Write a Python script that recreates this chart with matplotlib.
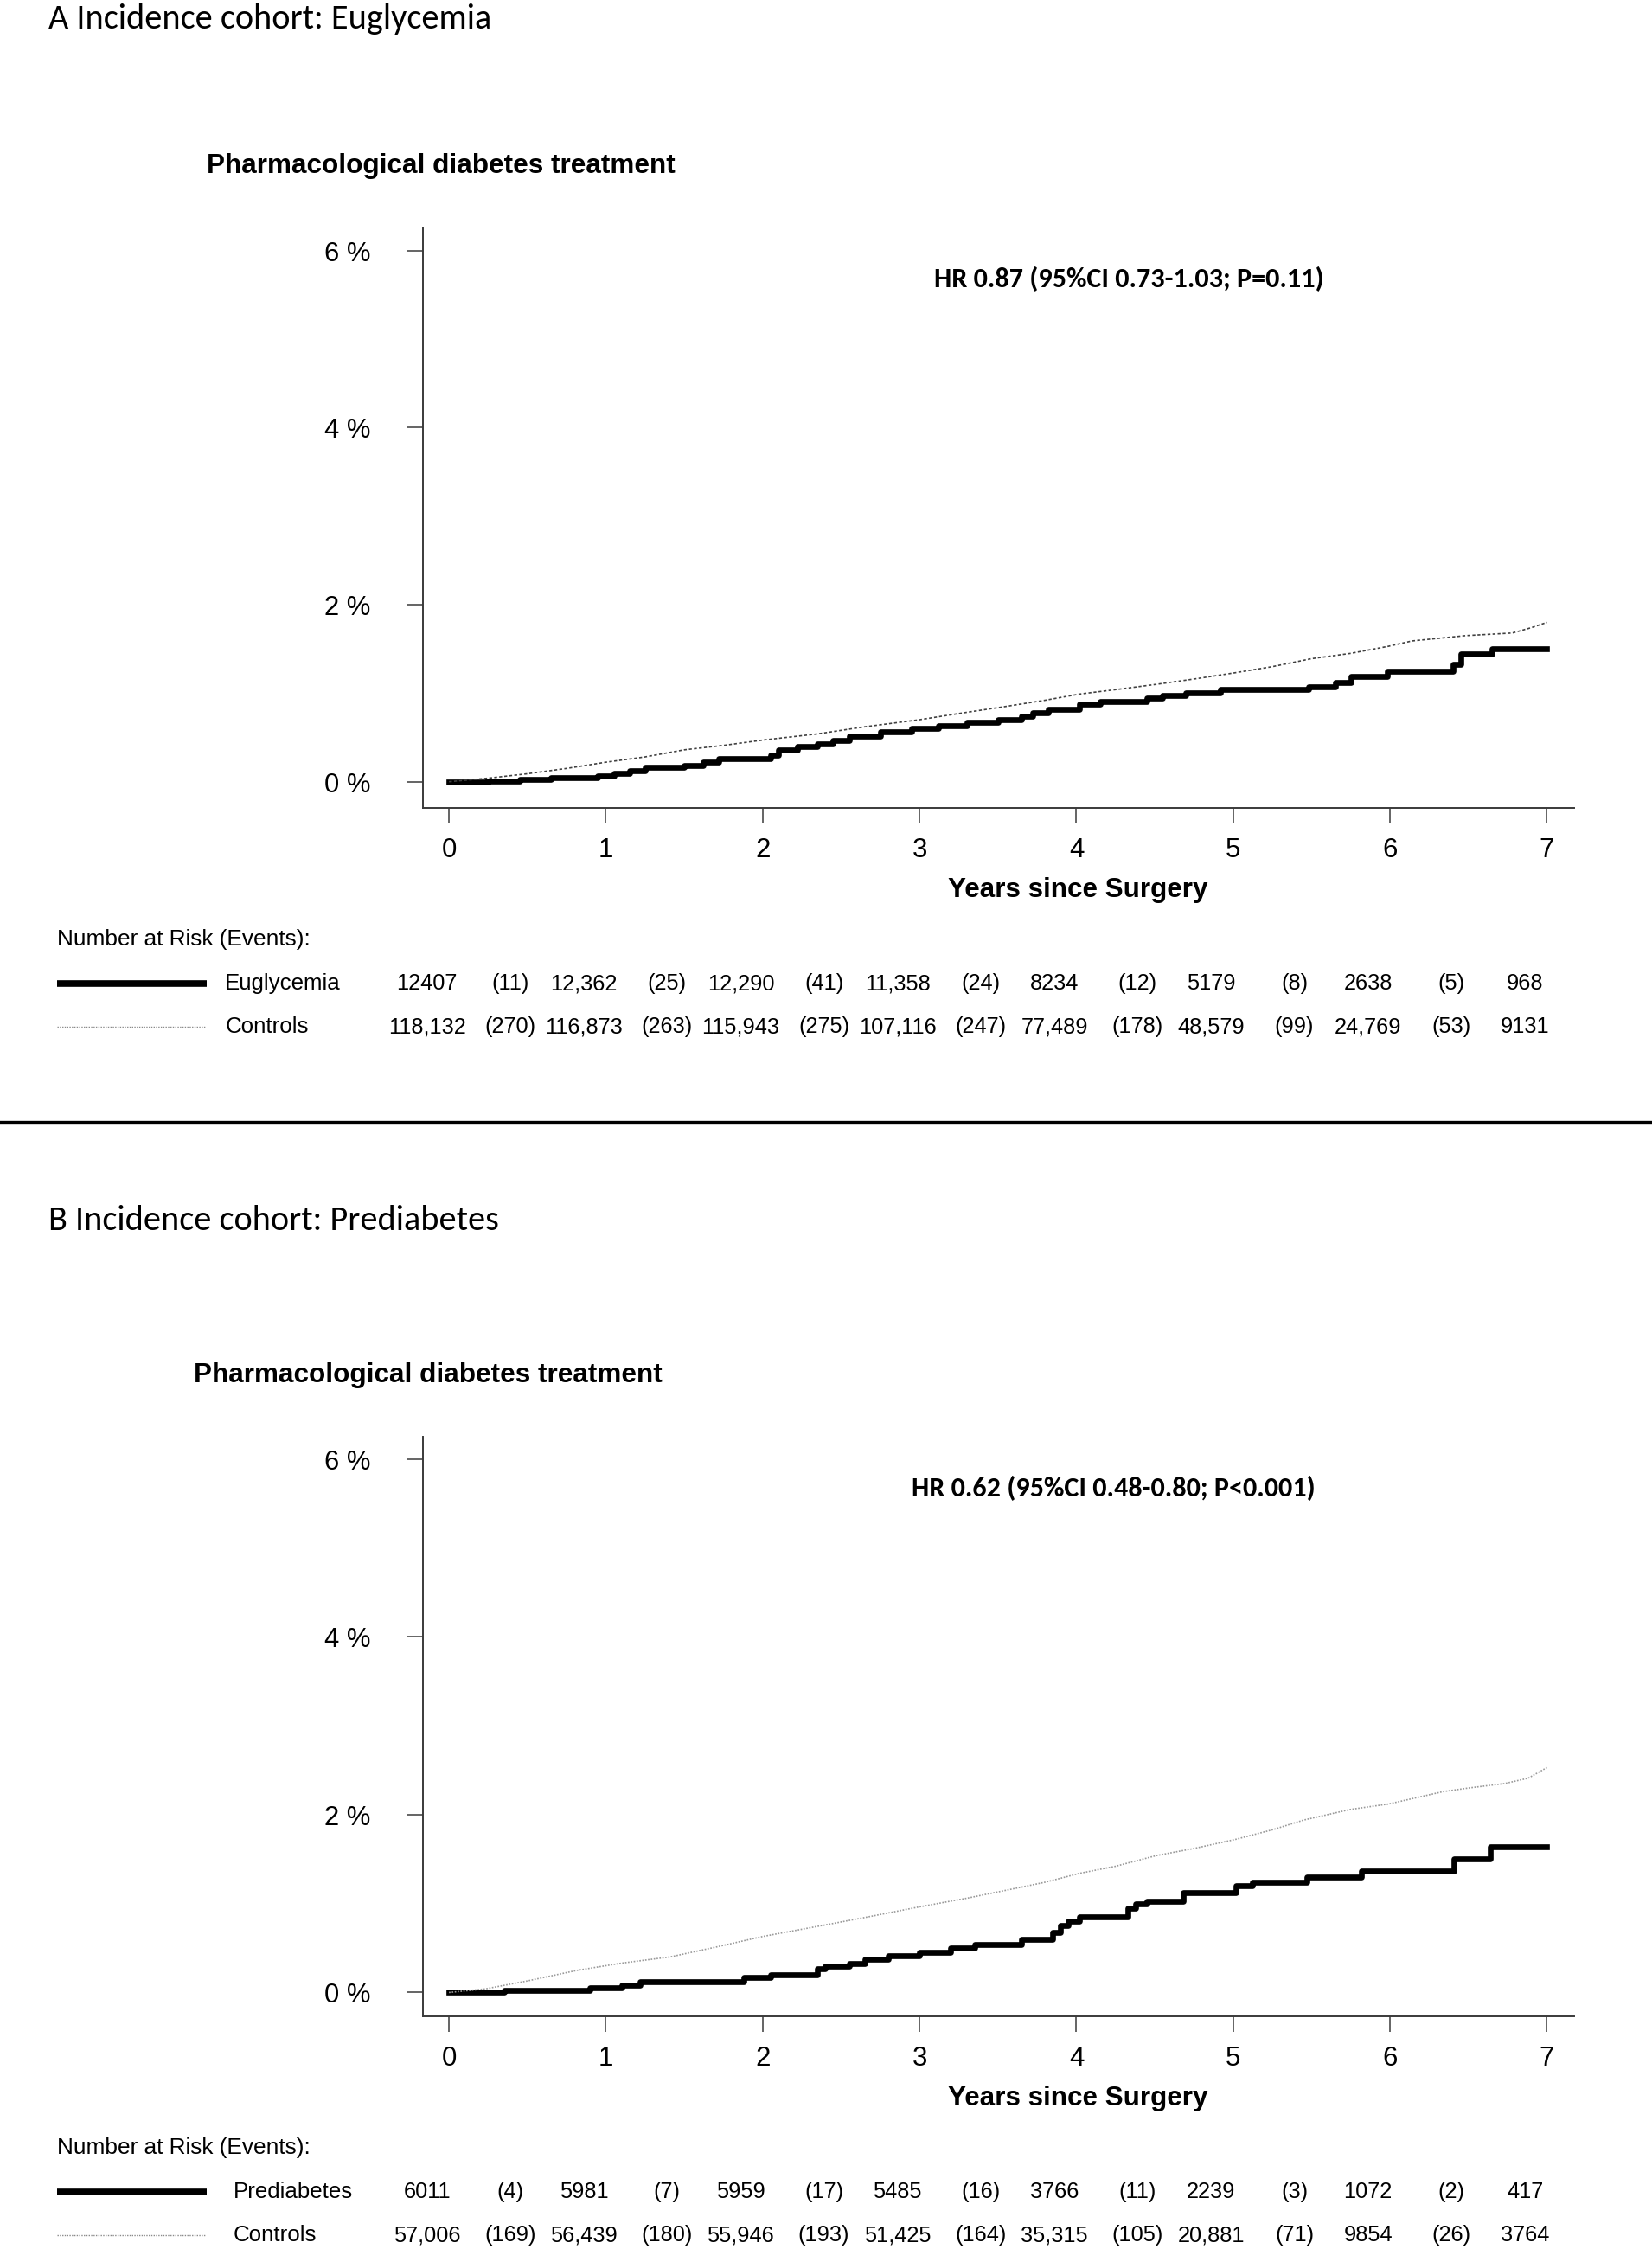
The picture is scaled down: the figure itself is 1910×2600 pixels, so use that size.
import matplotlib
matplotlib.use("Agg")
import matplotlib.pyplot as plt
import matplotlib.transforms as mtransforms
from matplotlib import font_manager
from matplotlib.lines import Line2D

# ---------------- data ----------------
years = [0, 1, 2, 3, 4, 5, 6, 7]
ytick_vals = [0, 2, 4, 6]
ytick_labels = ["0 %", "2 %", "4 %", "6 %"]

# Panel A: Euglycemia (step curve: time of step, level after, %)
a_case_t = [0.0, 0.25, 0.45, 0.65, 0.95, 1.05, 1.15, 1.25, 1.50, 1.62, 1.72, 2.05, 2.10,
            2.22, 2.35, 2.45, 2.55, 2.75, 2.95, 3.12, 3.30, 3.50, 3.65, 3.72, 3.82, 4.02,
            4.15, 4.45, 4.55, 4.70, 4.92, 5.48, 5.65, 5.75, 5.98, 6.40, 6.45, 6.65, 7.0]
a_case_y = [0.0, 0.01, 0.03, 0.05, 0.07, 0.09, 0.12, 0.16, 0.18, 0.22, 0.26, 0.30, 0.36,
            0.40, 0.43, 0.47, 0.51, 0.56, 0.60, 0.63, 0.67, 0.70, 0.74, 0.78, 0.82, 0.88,
            0.91, 0.94, 0.97, 1.00, 1.04, 1.07, 1.12, 1.19, 1.25, 1.33, 1.44, 1.50, 1.50]
# Panel A: Controls
a_ctrl_t = [0.0, 0.25, 0.5, 0.75, 1.0, 1.25, 1.5, 1.75, 2.0, 2.35, 2.65, 3.0, 3.25, 3.55,
            3.8, 4.02, 4.25, 4.51, 4.75, 5.01, 5.25, 5.5, 5.75, 5.99, 6.14, 6.48, 6.78,
            6.9, 7.0]
a_ctrl_y = [0.0, 0.04, 0.09, 0.15, 0.22, 0.28, 0.36, 0.41, 0.47, 0.54, 0.62, 0.70, 0.77,
            0.85, 0.92, 0.99, 1.04, 1.10, 1.16, 1.23, 1.30, 1.39, 1.45, 1.53, 1.59, 1.65,
            1.68, 1.74, 1.80]

# Panel B: Prediabetes (step curve)
b_case_t = [0.0, 0.35, 0.9, 1.1, 1.22, 1.88, 2.05, 2.35, 2.4, 2.55, 2.65, 2.8, 3.0, 3.2,
            3.35, 3.65, 3.85, 3.9, 3.95, 4.02, 4.33, 4.38, 4.45, 4.68, 5.02, 5.12, 5.47,
            5.82, 6.41, 6.64, 7.0]
b_case_y = [0.0, 0.02, 0.05, 0.08, 0.12, 0.17, 0.20, 0.27, 0.30, 0.33, 0.37, 0.41, 0.45,
            0.50, 0.54, 0.60, 0.68, 0.75, 0.80, 0.85, 0.95, 1.00, 1.03, 1.12, 1.20, 1.24,
            1.30, 1.37, 1.50, 1.64, 1.64]
# Panel B: Controls
b_ctrl_t = [0.0, 0.23, 0.5, 0.82, 1.1, 1.41, 1.7, 2.0, 2.4, 2.7, 2.99, 3.3, 3.58, 3.8,
            4.02, 4.25, 4.51, 4.75, 5.01, 5.25, 5.45, 5.75, 5.99, 6.34, 6.5, 6.73, 6.88, 7.0]
b_ctrl_y = [0.0, 0.04, 0.13, 0.25, 0.33, 0.40, 0.51, 0.63, 0.76, 0.86, 0.96, 1.06, 1.16,
            1.24, 1.34, 1.42, 1.54, 1.62, 1.72, 1.83, 1.94, 2.06, 2.12, 2.26, 2.30, 2.35,
            2.41, 2.53]

# Number at risk / events
a_case_risk = ["12407", "12,362", "12,290", "11,358", "8234", "5179", "2638", "968"]
a_case_events = ["(11)", "(25)", "(41)", "(24)", "(12)", "(8)", "(5)"]
a_ctrl_risk = ["118,132", "116,873", "115,943", "107,116", "77,489", "48,579", "24,769", "9131"]
a_ctrl_events = ["(270)", "(263)", "(275)", "(247)", "(178)", "(99)", "(53)"]

b_case_risk = ["6011", "5981", "5959", "5485", "3766", "2239", "1072", "417"]
b_case_events = ["(4)", "(7)", "(17)", "(16)", "(11)", "(3)", "(2)"]
b_ctrl_risk = ["57,006", "56,439", "55,946", "51,425", "35,315", "20,881", "9854", "3764"]
b_ctrl_events = ["(169)", "(180)", "(193)", "(164)", "(105)", "(71)", "(26)"]

panel_titles = ["A Incidence cohort: Euglycemia", "B Incidence cohort: Prediabetes"]
plot_title = "Pharmacological diabetes treatment"
hr_texts = ["HR 0.87 (95%CI 0.73-1.03; P=0.11)", "HR 0.62 (95%CI 0.48-0.80; P<0.001)"]
case_names = ["Euglycemia", "Prediabetes"]
ctrl_name = "Controls"
xlabel = "Years since Surgery"
risk_header = "Number at Risk (Events):"


# ---------------- fonts ----------------
def pick(cands):
    for c in cands:
        try:
            font_manager.findfont(c, fallback_to_default=False)
            return c
        except Exception:
            pass
    return "DejaVu Sans"


ARIAL = pick(["Liberation Sans", "Arimo", "DejaVu Sans"])
CALIBRI = pick(["Carlito", "Lato", "Open Sans", "DejaVu Sans"])

W, H = 1910, 2600
fig = plt.figure(figsize=((W + 0.5) / 100, (H + 0.5) / 100), dpi=100)
fig.patch.set_facecolor("white")


def fx(px):
    return px / W


def fy(py):
    return 1 - py / H


SPINE = "#3a3a3a"


def draw_panel(k, top, bottom, zero_px, pct_px, case_t, case_y, ctrl_t, ctrl_y,
               ctrl_color, ctrl_ls, case_risk, case_events, ctrl_risk, ctrl_events,
               title_x, hr_x, case_label_x, ctrl_label_x, panel_label_x, panel_label_base):
    ax = fig.add_axes([fx(489), fy(bottom), (1820 - 489) / W, (bottom - top) / H])
    ax.set_xlim(-(519 - 489) / 181.3, 7 + (1820 - 1788) / 181.3)
    ax.set_ylim(-(bottom - zero_px) / pct_px, (zero_px - top) / pct_px)

    ax.step(case_t, case_y, where="post", color="black", lw=4.8)
    ax.plot(ctrl_t, ctrl_y, color=ctrl_color, lw=1.2, ls=ctrl_ls)

    for s in ["top", "right"]:
        ax.spines[s].set_visible(False)
    for s in ["left", "bottom"]:
        ax.spines[s].set_color(SPINE)
        ax.spines[s].set_linewidth(1.4)
    ax.set_xticks(years)
    ax.set_xticklabels([str(y) for y in years], fontsize=22.5, family=ARIAL)
    ax.set_yticks(ytick_vals)
    ax.set_yticklabels(ytick_labels, fontsize=22.3, family=ARIAL)
    ax.tick_params(axis="both", direction="out", length=13, width=1.1, color=SPINE)
    ax.tick_params(axis="y", pad=31)
    ax.tick_params(axis="x", pad=11)
    ax.patch.set_alpha(0)

    # texts
    fig.text(fx(panel_label_x), fy(panel_label_base), panel_titles[k], family=CALIBRI,
             fontsize=29, va="baseline", ha="left")
    fig.text(fx(title_x), fy(top - 63), plot_title, family=ARIAL, weight="bold",
             fontsize=22.7, va="baseline", ha="left")
    fig.text(fx(hr_x), fy(top + 69), hr_texts[k], family=CALIBRI, weight="bold",
             fontsize=23.1, va="baseline", ha="left")
    fig.text(fx(1246), fy(bottom + 103), xlabel, family=ARIAL, weight="bold",
             fontsize=22.6, va="baseline", ha="center")

    # risk table
    fig.text(fx(66), fy(bottom + 159), risk_header, family=ARIAL, fontsize=18.9,
             va="baseline", ha="left")
    r1 = bottom + 203
    r2 = bottom + 253
    fig.add_artist(Line2D([fx(66), fx(239)], [fy(r1), fy(r1)], transform=fig.transFigure,
                          color="black", lw=5.5, solid_capstyle="butt"))
    fig.add_artist(Line2D([fx(66), fx(237)], [fy(r2), fy(r2)], transform=fig.transFigure,
                          color="#8a8a8a", lw=1.0, ls=(0, (1, 1))))
    fig.text(fx(case_label_x), fy(r1), case_names[k], family=ARIAL, fontsize=18.6,
             va="center", ha="left")
    fig.text(fx(ctrl_label_x), fy(r2), ctrl_name, family=ARIAL, fontsize=18.6,
             va="center", ha="left")

    tr = mtransforms.blended_transform_factory(ax.transData, fig.transFigure)
    for row_y, risk, events in [(r1, case_risk, case_events), (r2, ctrl_risk, ctrl_events)]:
        for i, s in enumerate(risk):
            ax.text(years[i] - 0.14, fy(row_y), s, transform=tr, family=ARIAL,
                    fontsize=18.3, ha="center", va="center", clip_on=False)
        for i, s in enumerate(events):
            ax.text(years[i] + 0.39, fy(row_y), s, transform=tr, family=ARIAL,
                    fontsize=18.3, ha="center", va="center", clip_on=False)
    return ax


draw_panel(0, 263, 934, 904, 102.3, a_case_t, a_case_y, a_ctrl_t, a_ctrl_y,
           "#404040", (0, (2, 1.5)), a_case_risk, a_case_events, a_ctrl_risk, a_ctrl_events,
           239, 1080, 260, 261, 56, 33)
draw_panel(1, 1661, 2331, 2303.5, 102.75, b_case_t, b_case_y, b_ctrl_t, b_ctrl_y,
           "#999999", (0, (1, 1)), b_case_risk, b_case_events, b_ctrl_risk, b_ctrl_events,
           224, 1054, 270, 270, 56, 1422)

# separator line between panels
fig.add_artist(Line2D([0, 1], [fy(1297), fy(1297)], transform=fig.transFigure,
                      color="black", lw=2.4))

fig.savefig("out.png", dpi=100, facecolor="white")
